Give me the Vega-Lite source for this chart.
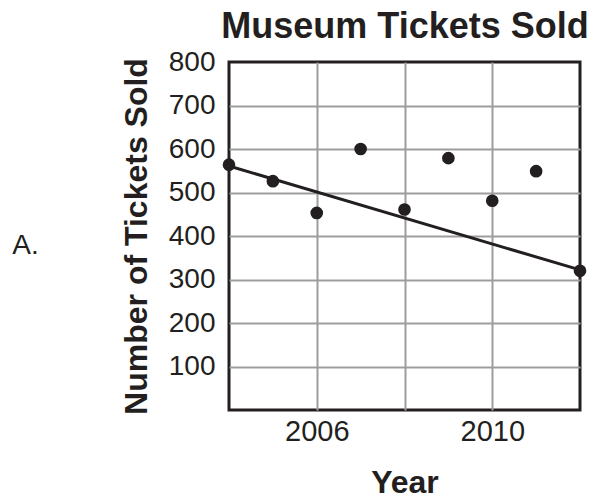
{
  "$schema": "https://vega.github.io/schema/vega-lite/v6.json",
  "width": 351,
  "height": 348,
  "padding": {"left": 12, "top": 8, "right": 8, "bottom": 0},
  "title": {
    "text": "A.",
    "orient": "left",
    "angle": 0,
    "anchor": "middle",
    "align": "right",
    "baseline": "middle",
    "offset": 55,
    "dy": 10,
    "fontSize": 28,
    "fontWeight": "normal",
    "font": "Liberation Sans",
    "color": "#231f20"
  },
  "config": {
    "font": "Liberation Sans",
    "view": {"stroke": "#231f20", "strokeWidth": 3}
  },
  "datasets": {
    "points": [
      {"year": 2004, "tickets": 564},
      {"year": 2005, "tickets": 526},
      {"year": 2006, "tickets": 453},
      {"year": 2007, "tickets": 600},
      {"year": 2008, "tickets": 461},
      {"year": 2009, "tickets": 579},
      {"year": 2010, "tickets": 481},
      {"year": 2011, "tickets": 549},
      {"year": 2012, "tickets": 320}
    ],
    "trend": [
      {"year": 2004, "tickets": 561},
      {"year": 2012, "tickets": 322}
    ]
  },
  "layer": [
    {
      "data": {"name": "trend"},
      "mark": {"type": "line", "color": "#231f20", "strokeWidth": 3},
      "encoding": {
        "x": {
          "field": "year",
          "type": "quantitative",
          "scale": {"domain": [2004, 2012], "nice": false, "zero": false},
          "axis": {
            "orient": "top",
            "title": "Museum Tickets Sold",
            "labels": false,
            "ticks": false,
            "domain": false,
            "grid": false,
            "titleFontSize": 36,
            "titleFontWeight": "bold",
            "titleColor": "#231f20",
            "titlePadding": 17
          }
        },
        "y": {
          "field": "tickets",
          "type": "quantitative",
          "scale": {"domain": [0, 800], "nice": false},
          "axis": {
            "values": [100, 200, 300, 400, 500, 600, 700, 800],
            "format": "d",
            "ticks": false,
            "domain": false,
            "grid": true,
            "gridColor": {"condition": {"test": "datum.value == 800", "value": "transparent"}, "value": "#9d9d9d"},
            "gridWidth": 2,
            "labelFontSize": 28,
            "labelColor": "#231f20",
            "labelPadding": 14,
            "title": "Number of Tickets Sold",
            "titleFontSize": 32,
            "titleFontWeight": "bold",
            "titleColor": "#231f20",
            "titlePadding": 15
          }
        }
      }
    },
    {
      "data": {"name": "points"},
      "mark": {"type": "point", "filled": true, "size": 160, "color": "#231f20", "opacity": 1},
      "encoding": {
        "x": {
          "field": "year",
          "type": "quantitative",
          "scale": {"domain": [2004, 2012], "nice": false, "zero": false},
          "axis": {
            "orient": "bottom",
            "values": [2006, 2008, 2010],
            "format": "d",
            "labelExpr": "datum.value == 2008 ? '' : datum.label",
            "ticks": false,
            "domain": false,
            "grid": true,
            "gridColor": "#9d9d9d",
            "gridWidth": 2,
            "labelFontSize": 29,
            "labelColor": "#231f20",
            "labelPadding": 7,
            "title": "Year",
            "titleFontSize": 32,
            "titleFontWeight": "bold",
            "titleColor": "#231f20",
            "titlePadding": 21
          }
        },
        "y": {
          "field": "tickets",
          "type": "quantitative",
          "scale": {"domain": [0, 800], "nice": false},
          "axis": {
            "values": [100, 200, 300, 400, 500, 600, 700, 800],
            "format": "d",
            "ticks": false,
            "domain": false,
            "grid": true,
            "gridColor": {"condition": {"test": "datum.value == 800", "value": "transparent"}, "value": "#9d9d9d"},
            "gridWidth": 2,
            "labelFontSize": 28,
            "labelColor": "#231f20",
            "labelPadding": 14,
            "title": "Number of Tickets Sold",
            "titleFontSize": 32,
            "titleFontWeight": "bold",
            "titleColor": "#231f20",
            "titlePadding": 15
          }
        }
      }
    }
  ],
  "resolve": {"axis": {"x": "independent"}}
}
